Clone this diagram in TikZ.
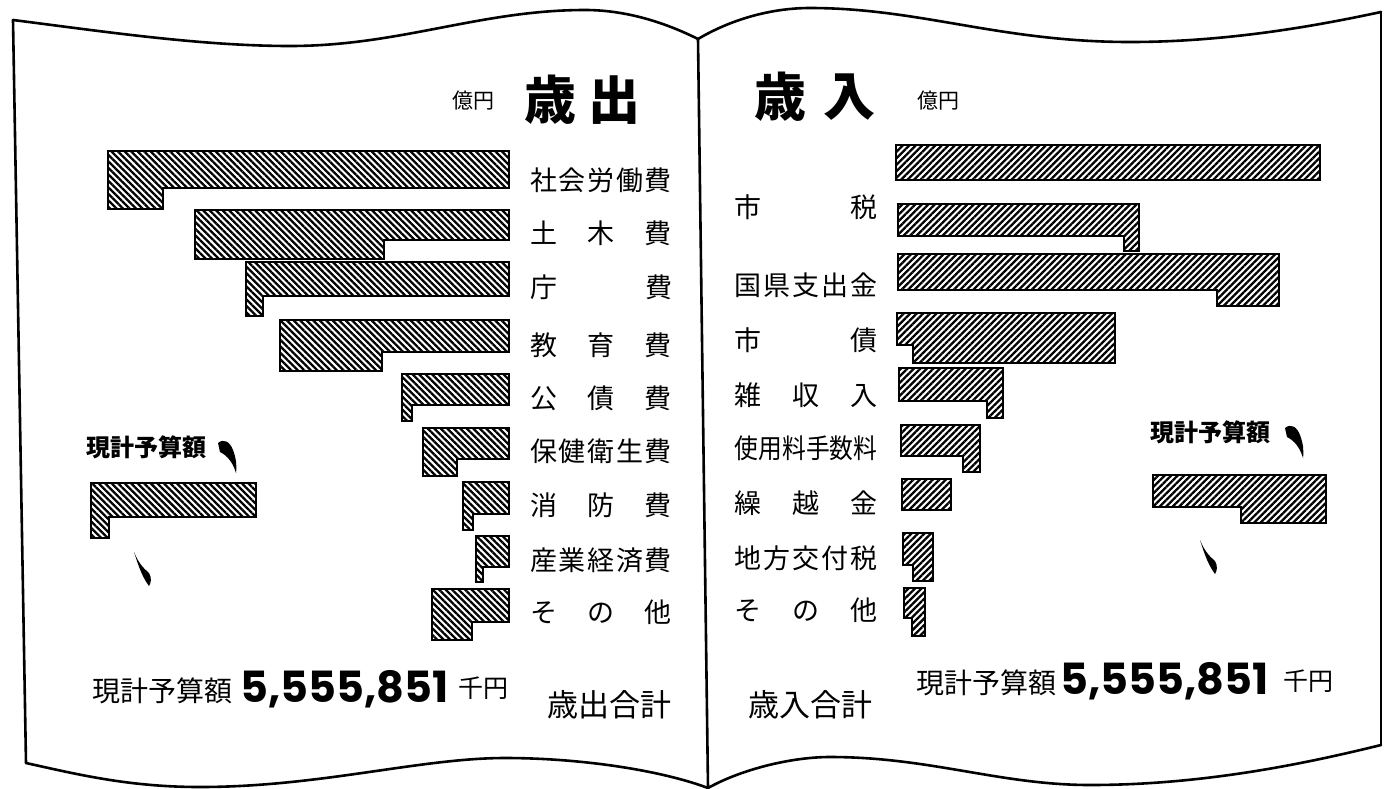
\documentclass[tikz,border=0pt]{standalone}
\usepackage{fontspec}
\setmainfont{Noto Sans CJK JP}
\newfontfamily\cjk{Noto Sans CJK JP}
\newfontfamily\numf{Poppins}
\usetikzlibrary{patterns.meta}
\newcommand\spr[2][142pt]{\makebox[#1]{#2}}
\tikzset{
  outline/.style={line width=2.6pt, line join=round, line cap=round},
  barL/.style={draw, line width=2.5pt, line join=miter,
    pattern={Lines[angle=-45,distance=4.6pt,line width=2.3pt]}},
  barR/.style={draw, line width=2.5pt, line join=miter,
    pattern={Lines[angle=45,distance=4.6pt,line width=2.3pt]}},
  lbl/.style={font=\cjk\fontsize{27}{27}\selectfont, inner sep=0pt},
  ttl/.style={font=\cjk\bfseries\fontsize{52}{52}\selectfont, inner sep=0pt},
  unit/.style={font=\cjk\fontsize{21}{21}\selectfont, inner sep=0pt},
  yen/.style={font=\cjk\fontsize{25}{25}\selectfont, inner sep=0pt},
  leg/.style={font=\cjk\bfseries\fontsize{24}{24}\selectfont, inner sep=0pt},
  tot/.style={font=\cjk\fontsize{28}{28}\selectfont, inner sep=0pt},
  num/.style={font=\numf\bfseries\fontsize{43}{43}\selectfont, inner sep=0pt},
  sum/.style={font=\cjk\fontsize{31}{31}\selectfont, inner sep=0pt},
}
\begin{document}
\begin{tikzpicture}[x=1pt,y=-1pt]
\useasboundingbox (0,0) rectangle (1385,788);
\fill[white] (0,0) rectangle (1385,788);

% ---------- book outline ----------
\coordinate (spT) at (698,39);
\coordinate (spB) at (708,788);
\coordinate (lTL) at (13,20);
\coordinate (lBL) at (26,763);
\coordinate (rTR) at (1381,12);
\coordinate (rBR) at (1381,745);
\draw[outline] (lTL) .. controls (100,31) and (200,46) .. (290,46)
  .. controls (400,46) and (480,10) .. (585,10)
  .. controls (630,10) and (670,25) .. (spT);
\draw[outline] (lTL) -- (lBL);
\draw[outline] (lBL) .. controls (80,775) and (130,787) .. (200,787)
  .. controls (320,787) and (420,758) .. (505,758)
  .. controls (580,758) and (660,770) .. (spB);
\draw[outline] (spT) -- (spB);
\draw[outline] (spT) .. controls (730,20) and (770,8) .. (810,8)
  .. controls (920,8) and (1000,42) .. (1130,42)
  .. controls (1230,42) and (1320,25) .. (rTR);
\draw[outline] (rTR) -- (rBR);
\draw[outline] (spB) .. controls (740,770) and (790,757) .. (830,757)
  .. controls (930,757) and (1000,785) .. (1090,785)
  .. controls (1200,785) and (1300,765) .. (rBR);

% ---------- titles ----------
\node[unit] (unitL) at (473,101) {億円};
\node[ttl] (sai1) at (550,100) {歳};
\node[ttl] (shutsu) at (614,100) {出};
\node[ttl] (sai2) at (780,97) {歳};
\node[ttl] (nyu) at (849,97) {入};
\node[unit] (unitR) at (938,101) {億円};

% ---------- left page bars (歳出) ----------
\draw[barL] (108,151) -- (509,151) -- (509,188) -- (163,188) -- (163,209) -- (108,209) -- cycle;
\draw[barL] (195,210) -- (509,210) -- (509,240) -- (384,240) -- (384,259) -- (195,259) -- cycle;
\draw[barL] (246,262) -- (509,262) -- (509,296) -- (263,296) -- (263,316) -- (246,316) -- cycle;
\draw[barL] (280,320) -- (509,320) -- (509,352) -- (382,352) -- (382,371) -- (280,371) -- cycle;
\draw[barL] (402,374) -- (509,374) -- (509,405) -- (412,405) -- (412,421) -- (402,421) -- cycle;
\draw[barL] (423,428) -- (509,428) -- (509,459) -- (457,459) -- (457,476) -- (423,476) -- cycle;
\draw[barL] (463,482) -- (509,482) -- (509,514) -- (473,514) -- (473,530) -- (463,530) -- cycle;
\draw[barL] (476,536) -- (509,536) -- (509,567) -- (483,567) -- (483,582) -- (476,582) -- cycle;
\draw[barL] (432,589) -- (509,589) -- (509,622) -- (472,622) -- (472,640) -- (432,640) -- cycle;
% legend
\draw[barL] (91,483) -- (256,483) -- (256,517) -- (109,517) -- (109,538) -- (91,538) -- cycle;
\node[leg] (legL) at (146,447) {現計予算額};
\fill (218,443) .. controls (224,438) and (230,442) .. (233,450)
  .. controls (236,458) and (237,465) .. (236,473)
  .. controls (233,463) and (228,456) .. (220,452) -- cycle;
\fill (134,552) .. controls (138,562) and (143,568) .. (149,573)
  .. controls (152,578) and (151,583) .. (149,586)
  .. controls (143,578) and (139,568) .. (134,552) -- cycle;

% ---------- left labels ----------
\node[lbl] (e1) at (601,180) {\spr{社\hfill 会\hfill 労\hfill 働\hfill 費}};
\node[lbl] (e2) at (601,233) {\spr{土\hfill 木\hfill 費}};
\node[lbl] (e3) at (601,287) {\spr{庁\hfill 費}};
\node[lbl] (e4) at (601,345) {\spr{教\hfill 育\hfill 費}};
\node[lbl] (e5) at (601,398) {\spr{公\hfill 債\hfill 費}};
\node[lbl] (e6) at (601,451) {\spr{保\hfill 健\hfill 衛\hfill 生\hfill 費}};
\node[lbl] (e7) at (601,505) {\spr{消\hfill 防\hfill 費}};
\node[lbl] (e8) at (601,560) {\spr{産\hfill 業\hfill 経\hfill 済\hfill 費}};
\node[lbl] (e9) at (601,612) {\spr{そ\hfill の\hfill 他}};

% ---------- right page bars (歳入) ----------
\draw[barR] (896,145) rectangle (1320,180);
\draw[barR] (898,204) -- (1139,204) -- (1139,251) -- (1124,251) -- (1124,236) -- (898,236) -- cycle;
\draw[barR] (898,254) -- (1279,254) -- (1279,306) -- (1217,306) -- (1217,290) -- (898,290) -- cycle;
\draw[barR] (897,313) -- (1115,313) -- (1115,363) -- (913,363) -- (913,345) -- (897,345) -- cycle;
\draw[barR] (899,368) -- (1003,368) -- (1003,418) -- (987,418) -- (987,401) -- (899,401) -- cycle;
\draw[barR] (901,425) -- (980,425) -- (980,472) -- (963,472) -- (963,456) -- (901,456) -- cycle;
\draw[barR] (902,479) rectangle (951,510);
\draw[barR] (903,533) -- (933,533) -- (933,581) -- (913,581) -- (913,565) -- (903,565) -- cycle;
\draw[barR] (904,588) -- (925,588) -- (925,636) -- (912,636) -- (912,618) -- (904,618) -- cycle;
% legend
\draw[barR] (1153,475) -- (1326,475) -- (1326,523) -- (1241,523) -- (1241,507) -- (1153,507) -- cycle;
\node[leg] (legR) at (1210,432) {現計予算額};
\fill (1285,428) .. controls (1291,423) and (1297,427) .. (1300,435)
  .. controls (1303,443) and (1304,450) .. (1303,458)
  .. controls (1300,448) and (1295,441) .. (1287,437) -- cycle;
\fill (1200,540) .. controls (1204,550) and (1209,556) .. (1215,561)
  .. controls (1218,566) and (1217,571) .. (1215,574)
  .. controls (1209,566) and (1205,556) .. (1200,540) -- cycle;

% ---------- right labels ----------
\node[lbl] (r1) at (806,207) {\spr[143pt]{市\hfill 税}};
\node[lbl] (r2) at (806,285) {\spr[143pt]{国\hfill 県\hfill 支\hfill 出\hfill 金}};
\node[lbl] (r3) at (806,340) {\spr[143pt]{市\hfill 債}};
\node[lbl] (r4) at (806,395) {\spr[143pt]{雑\hfill 収\hfill 入}};
\node[lbl] (r5) at (806,448) {\scalebox{0.88}[1]{使用料手数料}};
\node[lbl] (r6) at (806,503) {\spr[143pt]{繰\hfill 越\hfill 金}};
\node[lbl] (r7) at (806,558) {\spr[143pt]{地\hfill 方\hfill 交\hfill 付\hfill 税}};
\node[lbl] (r8) at (806,610) {\spr[143pt]{そ\hfill の\hfill 他}};

% ---------- totals ----------
\node[tot, anchor=west] (budL) at (92,691) {現計予算額};
\node[num, anchor=west] (numL) at (240,689) {5,555,851};
\node[yen, anchor=west] (yenL) at (458,688) {千円};
\node[sum] (sumL) at (609,705) {歳出合計};
\node[sum] (sumR) at (810,705) {歳入合計};
\node[tot, anchor=west] (budR) at (916,683) {現計予算額};
\node[num, anchor=west] (numR) at (1060,681) {5,555,851};
\node[yen, anchor=west] (yenR) at (1283,681) {千円};
\end{tikzpicture}
\end{document}
